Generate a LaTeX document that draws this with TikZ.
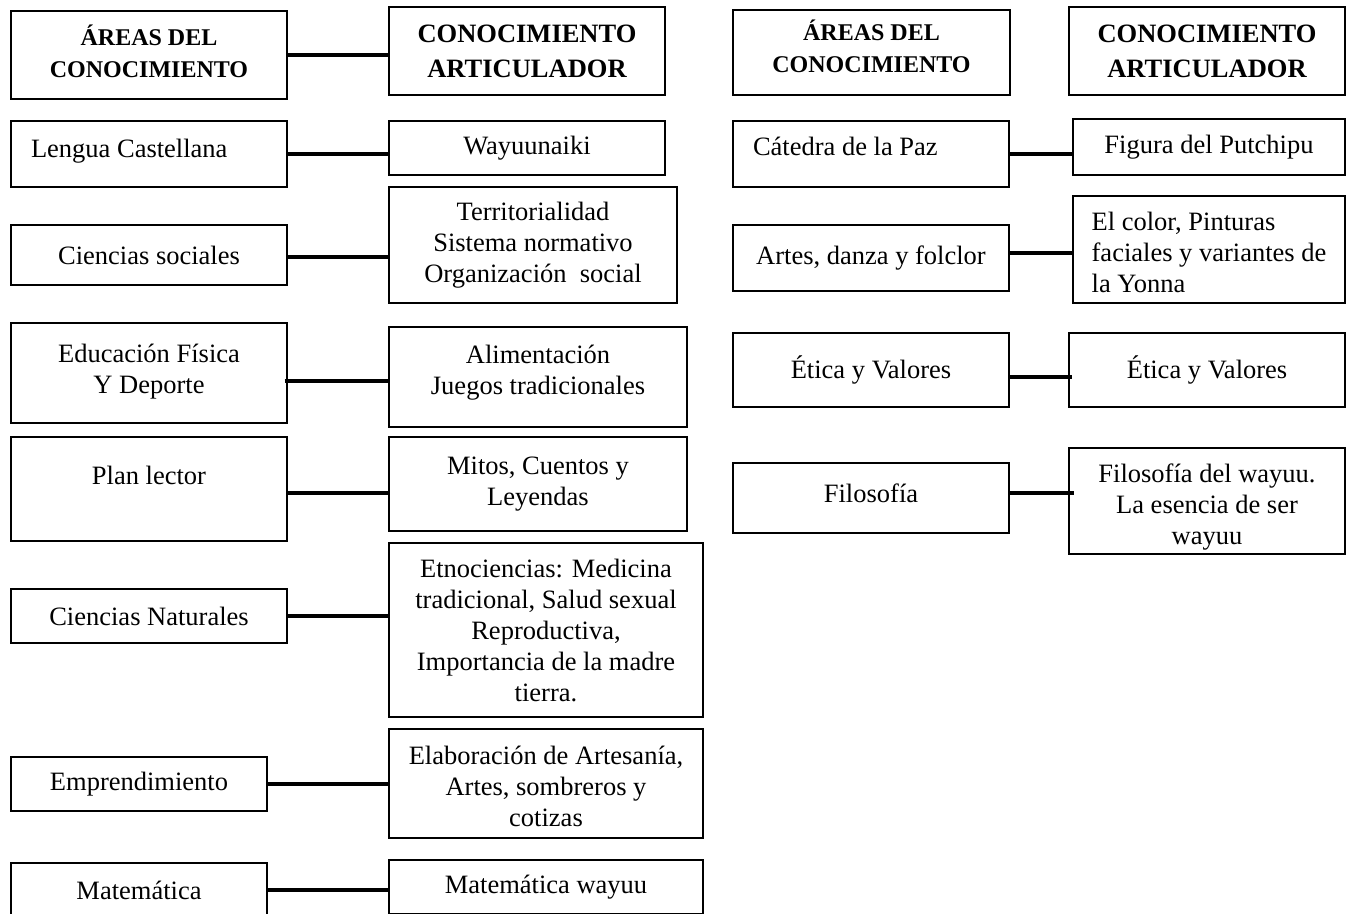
\documentclass[tikz,border=0pt]{standalone}
\usepackage{fontspec}
\setmainfont{Liberation Serif}

\begin{document}
\begin{tikzpicture}[x=1pt, y=1pt,
    box/.style={rectangle, draw, line width=1.2pt, inner sep=2pt, align=center, font=\fontsize{26.5}{31}\selectfont},
    head/.style={box, font=\fontsize{26.5}{35}\selectfont\bfseries},
    headsmall/.style={box, font=\fontsize{24}{32}\selectfont\bfseries},
    leftbox/.style={box, align=flush left, inner xsep=20pt},
    link/.style={line width=3.5pt}]
      \useasboundingbox (0,0) rectangle (1354,-913);
      \clip (0,0) rectangle (1354,-913);

      % Left table: headers
      \node[headsmall, minimum width=276pt, minimum height=88pt, text depth=8pt] (areasA) at (149,-55) {ÁREAS DEL\\CONOCIMIENTO};
      \node[head, minimum width=276pt, minimum height=88pt] (conocA) at (527,-51) {CONOCIMIENTO\\ARTICULADOR};

      % Left table: areas
      \node[leftbox, text width=236pt, minimum width=276pt, minimum height=66pt, text height=18pt, text depth=12pt] (lengua) at (149,-154) {Lengua Castellana};
      \node[box, minimum width=276pt, minimum height=60pt] (sociales) at (149,-255) {Ciencias sociales};
      \node[box, minimum width=276pt, minimum height=100pt, text depth=8pt] (fisica) at (149,-373) {Educación Física\\Y Deporte};
      \node[box, minimum width=276pt, minimum height=104pt, text depth=28pt] (lector) at (149,-489) {Plan lector};
      \node[box, minimum width=276pt, minimum height=54pt] (naturales) at (149,-616) {Ciencias Naturales};
      \node[box, minimum width=256pt, minimum height=54pt] (emprende) at (139,-784) {Emprendimiento};
      \node[box, minimum width=256pt, minimum height=54pt] (matematica) at (139,-890) {Matemática};

      % Left table: articulating knowledge
      \node[box, minimum width=276pt, minimum height=54pt] (wayuu) at (527,-148) {Wayuunaiki};
      \node[box, minimum width=288pt, minimum height=116pt] (territorio) at (533,-245) {Territorialidad\\Sistema normativo\\Organización~ social};
      \node[box, minimum width=298pt, minimum height=100pt, text depth=14pt] (alimentacion) at (538,-377) {Alimentación\\Juegos tradicionales};
      \node[box, minimum width=298pt, minimum height=94pt] (mitos) at (538,-484) {Mitos, Cuentos y\\Leyendas};
      \node[box, minimum width=314pt, minimum height=174pt] (etnociencias) at (546,-630) {Etnociencias: Medicina\\tradicional, Salud sexual\\Reproductiva,\\Importancia de la madre\\tierra.};
      \node[box, minimum width=314pt, minimum height=109pt, text height=87pt] (artesania) at (546,-783.5) {Elaboración de Artesanía,\\Artes, sombreros y\\cotizas};
      \node[box, minimum width=314pt, minimum height=54pt] (matwayuu) at (546,-887) {Matemática wayuu};

      % Right table: headers
      \node[headsmall, minimum width=277pt, minimum height=85pt, text depth=12pt] (areasB) at (871.5,-52.5) {ÁREAS DEL\\CONOCIMIENTO};
      \node[head, minimum width=276pt, minimum height=88pt] (conocB) at (1207,-51) {CONOCIMIENTO\\ARTICULADOR};

      % Right table: areas
      \node[leftbox, text width=236pt, minimum width=276pt, minimum height=66pt, text height=18pt, text depth=16pt] (catedra) at (871,-154) {Cátedra de la Paz};
      \node[box, minimum width=276pt, minimum height=66pt] (artes) at (871,-258) {Artes, danza y folclor};
      \node[box, minimum width=276pt, minimum height=74pt] (etica) at (871,-370) {Ética y Valores};
      \node[box, minimum width=276pt, minimum height=70pt, text height=18pt, text depth=10pt] (filosofia) at (871,-498) {Filosofía};

      % Right table: articulating knowledge
      \node[box, minimum width=272pt, minimum height=56pt] (putchipu) at (1209,-147) {Figura del Putchipu};
      \node[box, align=left, minimum width=272pt, minimum height=107pt, text height=87pt] (yonna) at (1209,-249.5) {El color, Pinturas\\faciales y variantes de\\la Yonna};
      \node[box, minimum width=276pt, minimum height=74pt] (eticaart) at (1207,-370) {Ética y Valores};
      \node[box, minimum width=276pt, minimum height=106pt, text height=92pt] (filowayuu) at (1207,-501) {Filosofía del wayuu.\\La esencia de ser\\wayuu};

      % Connectors
      \draw[link] (areasA.east) -- (areasA.east -| conocA.west);
      \draw[link] (lengua.east) -- (lengua.east -| wayuu.west);
      \draw[link] ([yshift=-2pt]sociales.east) -- ([yshift=-2pt]sociales.east -| territorio.west);
      \draw[link, shorten <=-3pt] ([yshift=-8pt]fisica.east) -- ([yshift=-8pt]fisica.east -| alimentacion.west);
      \draw[link] ([yshift=-4pt]lector.east) -- ([yshift=-4pt]lector.east -| mitos.west);
      \draw[link] (naturales.east) -- (naturales.east -| etnociencias.west);
      \draw[link] (emprende.east) -- (emprende.east -| artesania.west);
      \draw[link] (matematica.east) -- (matematica.east -| matwayuu.west);
      \draw[link] (catedra.east) -- (catedra.east -| putchipu.west);
      \draw[link] ([yshift=5pt]artes.east) -- ([yshift=5pt]artes.east -| yonna.west);
      \draw[link, shorten >=-4pt] ([yshift=-7pt]etica.east) -- ([yshift=-7pt]etica.east -| eticaart.west);
      \draw[link, shorten >=-6pt] ([yshift=5pt]filosofia.east) -- ([yshift=5pt]filosofia.east -| filowayuu.west);
    \end{tikzpicture}
\end{document}
